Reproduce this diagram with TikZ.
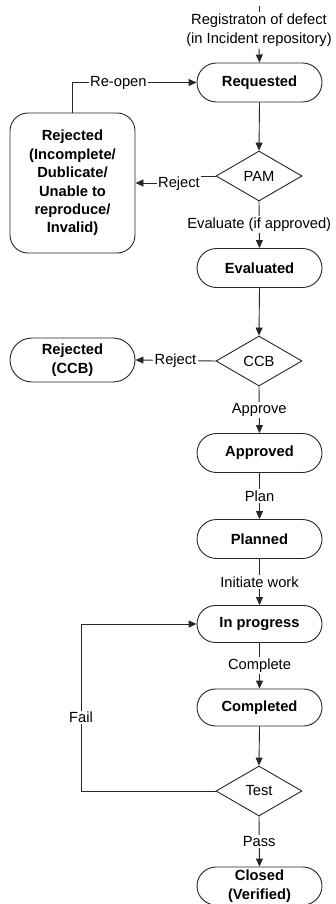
\documentclass[tikz,border=0pt]{standalone}
\usepackage{fontspec}
\setmainfont{Liberation Sans}
\usetikzlibrary{shapes.geometric,shapes.misc,arrows.meta}
\begin{document}
\begin{tikzpicture}[x=1pt,y=-1pt,
  line/.style={draw=black!85, line width=0.9pt},
  arr/.style={line, -{Triangle[length=8pt,width=7pt]}},
  state/.style={rounded rectangle, line, minimum width=125pt, minimum height=39pt,
    font=\fontsize{14.7}{18.4}\selectfont\bfseries, align=center, inner sep=0pt},
  bigbox/.style={rectangle, rounded corners=18pt, line, minimum width=125pt, minimum height=140pt,
    font=\fontsize{14.7}{18.4}\selectfont\bfseries, align=center, inner sep=0pt},
  dec/.style={diamond, line, minimum width=86pt, minimum height=50pt, inner sep=0pt,
    font=\fontsize{14.7}{18}\selectfont},
  lbl/.style={fill=white, inner sep=1.5pt, font=\fontsize{14.7}{19}\selectfont, align=center}]
\clip (0,0) rectangle (335,904);
\fill[white] (0,0) rectangle (335,904);

% nodes
\node[state] (req) at (259.5,82.5) {Requested};
\node[bigbox] (rej) at (72.5,183) {Rejected\\(Incomplete/\\Dublicate/\\Unable to\\reproduce/\\Invalid)};
\node[dec] (pam) at (259,176) {PAM};
\node[state] (eval) at (259.5,268) {Evaluated};
\node[dec] (ccb) at (259,361) {CCB};
\node[state, minimum height=44pt] (rejccb) at (72.5,360) {Rejected\\(CCB)};
\node[state] (appr) at (259.5,453) {Approved};
\node[state] (plan) at (259.5,539) {Planned};
\node[state, minimum height=37pt] (prog) at (259.5,624) {In progress};
\node[state, minimum height=37pt] (comp) at (259.5,707.5) {Completed};
\node[dec] (test) at (259,791) {Test};
\node[state, minimum height=38pt] (closed) at (259.5,886) {Closed\\(Verified)};

% entry
\coordinate (top) at (259,6);
\node[lbl] (l0) at (259,30.5) {Registraton of defect\\(in Incident repository)};
\draw[line] (top) -- (l0.north);
\draw[arr] (l0.south) -- (req.north);

% main flow
\draw[arr] (req.south) -- (pam.north);
\draw[arr] (pam.south) -- node[lbl]{Evaluate (if approved)} (eval.north);
\draw[arr] (eval.south) -- (ccb.north);
\draw[arr] (ccb.south) -- node[lbl]{Approve} (appr.north);
\draw[arr] (appr.south) -- node[lbl]{Plan} (plan.north);
\draw[arr] (plan.south) -- node[lbl]{Initiate work} (prog.north);
\draw[arr] (prog.south) -- node[lbl]{Complete} (comp.north);
\draw[arr] (comp.south) -- (test.north);
\draw[arr] (test.south) -- node[lbl]{Pass} (closed.north);

% rejections
\coordinate (pj) at (180,176);
\draw[arr] (pam.west) -- (pj) |- (rej.east);
\node[lbl] (rl1) at (179,183.5) {Reject};
\draw[arr] (ccb.west) -- node[lbl]{Reject} (rejccb.east);

% re-open
\draw[arr] (rej.north) |- node[lbl, pos=0.685]{Re-open} (req.west);

% fail loop
\coordinate (fc) at (81,791);
\draw[arr] (test.west) -- (fc) |- node[lbl, pos=0.22]{Fail} (prog.west);
\end{tikzpicture}
\end{document}
